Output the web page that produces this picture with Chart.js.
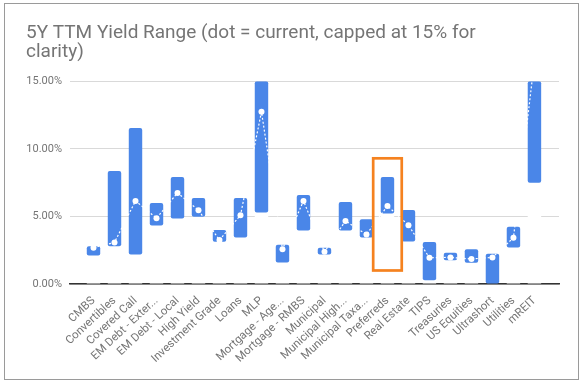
<!DOCTYPE html>
<html>
<head>
<meta charset="utf-8">
<script src="https://cdn.jsdelivr.net/npm/chart.js@4/dist/chart.umd.min.js"></script>
<style>
  html, body { margin: 0; padding: 0; background: #fff; }
  #wrap { position: relative; width: 583px; height: 385px; }
  #frame { position: absolute; left: 4px; top: 3px; width: 573px; height: 375px; border: 1px solid #9a9a9a; pointer-events: none; }
  canvas { position: absolute; left: 0; top: 0; }
</style>
</head>
<body>
<div id="wrap">
  <canvas id="c" width="583" height="385"></canvas>
  <div id="frame"></div>
</div>
<script>
const titleLines = ['5Y TTM Yield Range (dot = current, capped at 15% for', 'clarity)'];
const categories = ['CMBS', 'Convertibles', 'Covered Call', 'EM Debt - Exter...', 'EM Debt - Local', 'High Yield',
  'Investment Grade', 'Loans', 'MLP', 'Mortgage - Age...', 'Mortgage - RMBS', 'Municipal', 'Municipal High...',
  'Municipal Taxa...', 'Preferreds', 'Real Estate', 'TIPS', 'Treasuries', 'US Equities', 'Ultrashort', 'Utilities', 'mREIT'];
const rangeLow  = [2.10, 2.80, 2.19, 4.33, 4.85, 4.97, 3.12, 3.45, 5.29, 1.60, 3.96, 2.19, 3.96, 3.45, 5.22, 3.15, 0.27, 1.75, 1.57, 0.00, 2.71, 7.50];
const rangeHigh = [2.80, 8.36, 11.54, 6.00, 7.92, 6.37, 4.00, 6.37, 15.00, 2.90, 6.59, 2.68, 6.07, 4.80, 7.92, 5.48, 3.10, 2.31, 2.58, 2.24, 4.23, 15.00];
const currentYield = [2.68, 3.08, 6.15, 4.87, 6.74, 5.46, 3.25, 5.09, 12.74, 2.58, 6.15, 2.38, 4.67, 3.67, 5.78, 4.35, 1.94, 1.97, 1.85, 1.97, 3.42, 16.5];
const yTicks = [0, 5, 10, 15];
const highlightCategory = 'Preferreds';
const highlightRange = [1.0, 9.3];

const FONT = 'Roboto';
const GREY = '#757575';

const highlightPlugin = {
  id: 'highlight',
  afterDatasetsDraw(chart) {
    const {ctx, scales: {x, y}} = chart;
    const i = categories.indexOf(highlightCategory);
    const step = x.getPixelForValue(i + 1) - x.getPixelForValue(i);
    const x0 = x.getPixelForValue(i) - 0.68 * step;
    const x1 = x.getPixelForValue(i) + 0.68 * step;
    const y0 = y.getPixelForValue(highlightRange[1]);
    const y1 = y.getPixelForValue(highlightRange[0]);
    ctx.save();
    ctx.strokeStyle = '#f5821f';
    ctx.lineWidth = 2.7;
    ctx.strokeRect(x0, y0, x1 - x0, y1 - y0);
    ctx.restore();
  }
};

new Chart(document.getElementById('c'), {
  data: {
    datasets: [
      {
        type: 'line',
        order: 0,
        data: currentYield.map((v, i) => ({x: i, y: v})),
        borderColor: '#ffffff',
        borderWidth: 1.2,
        borderDash: [2, 2],
        pointRadius: 3,
        pointBackgroundColor: '#ffffff',
        pointBorderWidth: 0,
        tension: 0,
        fill: false
      },
      {
        type: 'bar',
        order: 1,
        data: rangeLow.map((v, i) => ({x: i, y: [v, rangeHigh[i]]})),
        backgroundColor: '#4a86e8',
        borderRadius: 2,
        borderSkipped: false,
        grouped: false,
        barPercentage: 0.64,
        categoryPercentage: 1
      },
      {
        type: 'bar',
        order: 2,
        data: rangeLow.map((v, i) => ({x: i, y: [0, v]})),
        backgroundColor: '#ffffff',
        grouped: false,
        barPercentage: 0.64,
        categoryPercentage: 1
      }
    ]
  },
  options: {
    responsive: false,
    animation: false,
    devicePixelRatio: 1,
    layout: { padding: { left: 26, right: 24, top: 0, bottom: 0 } },
    plugins: {
      legend: { display: false },
      tooltip: { enabled: false },
      title: {
        display: true,
        text: titleLines,
        align: 'start',
        color: GREY,
        font: { family: FONT, size: 19, weight: 'normal', lineHeight: 1.0 },
        padding: { top: 23.5, bottom: 19.8 }
      }
    },
    scales: {
      x: {
        type: 'linear',
        min: -0.59,
        max: 21.64,
        z: 1,
        grid: { display: false },
        border: { display: true, color: '#333333', width: 1.5 },
        afterBuildTicks: (s) => { s.ticks = categories.map((_, i) => ({value: i})); },
        afterFit: (s) => { s.height = 101; },
        ticks: {
          autoSkip: false,
          minRotation: 43,
          maxRotation: 43,
          padding: 2,
          color: GREY,
          font: { family: FONT, size: 11.5 },
          callback: (v) => categories[v]
        }
      },
      y: {
        min: 0,
        max: 15,
        afterBuildTicks: (s) => { s.ticks = yTicks.map(v => ({value: v})); },
        afterFit: (s) => { s.width = 44; },
        grid: { color: '#d9d9d9', drawTicks: false, lineWidth: 1 },
        border: { display: false },
        ticks: {
          padding: 8,
          color: GREY,
          font: { family: FONT, size: 11 },
          callback: (v) => v.toFixed(2) + '%'
        }
      }
    }
  },
  plugins: [highlightPlugin]
});
</script>
</body>
</html>
